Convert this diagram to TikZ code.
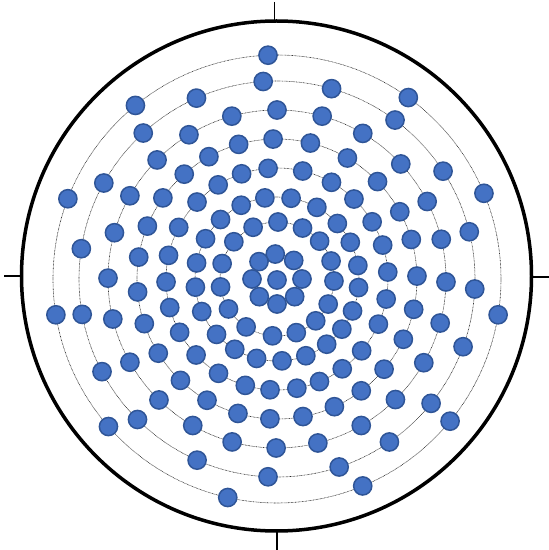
\documentclass[tikz,border=0pt]{standalone}
\definecolor{dotfill}{HTML}{4472C4}
\definecolor{dotedge}{HTML}{2F5597}
\begin{document}
\begin{tikzpicture}[x=1pt,y=1pt,
  dotmark/.style={fill=dotfill, draw=dotedge, line width=1.5pt},
  ringline/.style={draw=black!85, line width=0.6pt, dash pattern=on 0.7pt off 0.7pt},
  tickline/.style={draw=black, line width=1.1pt}]
\useasboundingbox (0,0) rectangle (549,550);
\coordinate (C) at (277,271);
\coordinate (O) at (276.5,274);
% outer circle
\draw[line width=3.5pt] (O) circle (255);
% ticks
\coordinate (T1) at (274.5,548); \coordinate (T2) at (274.5,529);
\coordinate (L1) at (4,274);   \coordinate (L2) at (21,274);
\coordinate (R1) at (532,273); \coordinate (R2) at (549,273);
\coordinate (B1) at (277,19);  \coordinate (B2) at (277,0);
\draw[tickline] (T1) -- (T2);
\draw[tickline] (L1) -- (L2);
\draw[tickline] (R1) -- (R2);
\draw[tickline] (B1) -- (B2);
% dotted rings
\foreach \r in {25,57,82,111,140,169,198,224}
  \draw[ringline] (C) circle (\r);
% dots
\filldraw[dotmark] (C) ++(0,-1) circle (9.1);
\foreach \a in {94,48,0,-45,-90,-135,180,136}
  \filldraw[dotmark] (C) ++(\a:25) circle (9.1);
\foreach \a in {114.8,89,63.4,41.6,18.4,-2,-26.1,-47.2,-70.2,-94.5,-122.8,-148.3,-172,164.3,139.2}
  \filldraw[dotmark] (C) ++(\a:57) circle (9.1);
\foreach \a in {115.9,98.5,80.1,60.9,42.6,26.6,9.5,-6,-22.9,-37.7,-52.7,-69.4,-86.5,-104.4,-121,-137.5,-156.6,-174.3,168.7,150.6,133.5}
  \filldraw[dotmark] (C) ++(\a:82) circle (9.1);
\foreach \a in {94.6,76.6,60.6,46.1,31,17.8,3.6,-10.4,-24,-40.3,-54,-67.5,-79.7,-93.6,-106.6,-121.8,-136.8,-151.3,-165.1,-178.5,167.7,152.3,136.1,122,108.6}
  \filldraw[dotmark] (C) ++(\a:111) circle (9.1);
\foreach \a in {91.6,76.2,59.8,44.1,28.7,16.4,1.2,-12.5,-25.5,-40.1,-53,-65.8,-79.3,-92.9,-106.2,-120,-133.6,-148,-161.4,-174.7,171,157.8,144.6,131.5,119.1,105.9}
  \filldraw[dotmark] (C) ++(\a:140) circle (9.1);
\foreach \a in {90,74.5,59.5,42.9,27.3,13.6,-1,-15.1,-29.7,-45.5,-60.1,-76,-90.3,-105.4,-119.9,-134.3,-150.5,-166.3,179.7,164.1,150.5,135.2,121.4,105.5}
  \filldraw[dotmark] (C) ++(\a:169) circle (9.1);
\foreach \a in {94,74,53.4,33,13.8,-2.9,-20,-38.9,-55.4,-71.7,-92.6,-113.8,-134.8,-152.1,-169.7,171.2,151,132.5,114}
  \filldraw[dotmark] (C) ++(\a:198) circle (9.1);
\foreach \a in {92.3,54.1,22.5,-9.2,-39.4,-67.5,-102.7,-138.8,-170.8,159,129.2}
  \filldraw[dotmark] (C) ++(\a:224) circle (9.1);
\end{tikzpicture}
\end{document}
